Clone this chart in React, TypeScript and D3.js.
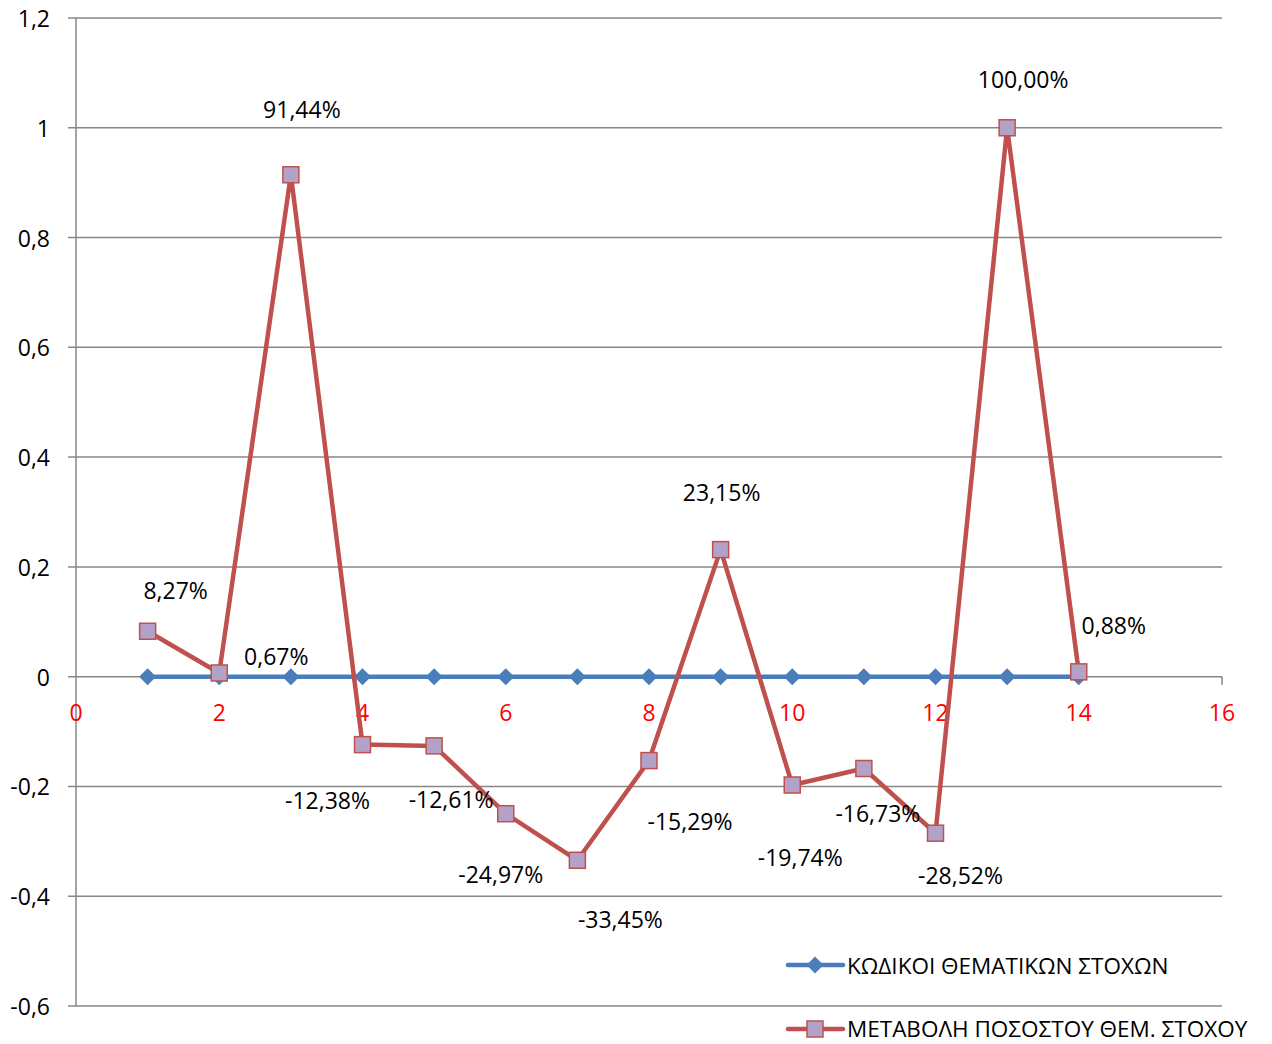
import React from "react";
import * as d3 from "d3";

const xValues = [1, 2, 3, 4, 5, 6, 7, 8, 9, 10, 11, 12, 13, 14];
const codesSeries = [0, 0, 0, 0, 0, 0, 0, 0, 0, 0, 0, 0, 0, 0];
const changeSeries = [0.0827, 0.0067, 0.9144, -0.1238, -0.1261, -0.2497, -0.3345, -0.1529, 0.2315, -0.1974, -0.1673, -0.2852, 1.0, 0.0088];
const changeLabels = ["8,27%", "0,67%", "91,44%", "-12,38%", "-12,61%", "-24,97%", "-33,45%", "-15,29%", "23,15%", "-19,74%", "-16,73%", "-28,52%", "100,00%", "0,88%"];
const labelOffsets: [number, number][] = [
  [28, -41], [57, -17], [11, -66], [-35, 55], [17, 53], [-5, 60], [43, 59],
  [41, 60], [1, -58], [8, 72], [14, 45], [25, 42], [16, -49], [35, -47],
];
const yTicks = [-0.6, -0.4, -0.2, 0, 0.2, 0.4, 0.6, 0.8, 1, 1.2];
const xTicks = [0, 2, 4, 6, 8, 10, 12, 14, 16];
const seriesNames = ["ΚΩΔΙΚΟΙ ΘΕΜΑΤΙΚΩΝ ΣΤΟΧΩΝ", "ΜΕΤΑΒΟΛΗ ΠΟΣΟΣΤΟΥ ΘΕΜ. ΣΤΟΧΟΥ"];

const FONT = "'Open Sans', 'Noto Sans', sans-serif";
const FS = 23;
const BLUE = "#4a7ebb";
const RED = "#c0504d";
const MARK = "#b3a2c7";
const GRID = "#878787";

const fmt = (v: number) => {
  const s = d3.format("~g")(Math.round(v * 10) / 10);
  return s.replace(".", ",").replace("−", "-");
};

export default function App() {
  const W = 1272, H = 1044;
  const x = d3.scaleLinear().domain([0, 16]).range([76, 1222]);
  const y = d3.scaleLinear().domain([-0.6, 1.2]).range([1006, 18]);
  const line = d3.line<number>().x((_, i) => x(xValues[i])).y((d) => y(d));
  const ms = 16;
  const diamond = (cx: number, cy: number, r: number) =>
    `M${cx},${cy - r}L${cx + r},${cy}L${cx},${cy + r}L${cx - r},${cy}Z`;

  return (
    <svg width={W} height={H} style={{ position: "absolute", left: 0, top: 0, background: "#fff" }} fontFamily={FONT}>
      {yTicks.map((t) => (
        <g key={t}>
          <line x1={68} x2={1222} y1={y(t)} y2={y(t)} stroke={GRID} strokeWidth={1.5} />
          <text x={50} y={y(t)} textAnchor="end" dominantBaseline="central" fontSize={FS} fill="#000">
            {fmt(t)}
          </text>
        </g>
      ))}
      <line x1={x(0)} x2={x(0)} y1={y(1.2)} y2={y(-0.6)} stroke={GRID} strokeWidth={1.5} />
      <line x1={x(16)} x2={x(16)} y1={y(0)} y2={y(0) + 8} stroke={GRID} strokeWidth={1.5} />
      {xTicks.map((t) => (
        <text key={t} x={x(t)} y={y(0) + 35} textAnchor="middle" dominantBaseline="central" fontSize={FS} fill="#ff0000">
          {t}
        </text>
      ))}
      <path d={line(codesSeries) || ""} fill="none" stroke={BLUE} strokeWidth={4.5} strokeLinejoin="round" />
      {codesSeries.map((v, i) => (
        <path key={i} d={diamond(x(xValues[i]), y(v), 8.5)} fill={BLUE} />
      ))}
      <path d={line(changeSeries) || ""} fill="none" stroke={RED} strokeWidth={4.5} strokeLinejoin="round" />
      {changeSeries.map((v, i) => (
        <rect key={i} x={x(xValues[i]) - ms / 2} y={y(v) - ms / 2} width={ms} height={ms} fill={MARK} stroke={RED} strokeWidth={1.5} />
      ))}
      {changeSeries.map((v, i) => (
        <text key={i} x={x(xValues[i]) + labelOffsets[i][0]} y={y(v) + labelOffsets[i][1]} textAnchor="middle" dominantBaseline="central" fontSize={FS} fill="#000">
          {changeLabels[i]}
        </text>
      ))}
      <g>
        <line x1={788} x2={843} y1={965} y2={965} stroke={BLUE} strokeWidth={4.5} strokeLinecap="round" />
        <path d={diamond(815, 965, 8.5)} fill={BLUE} />
        <text x={847} y={965} dominantBaseline="central" fontSize={22.5} fill="#000">{seriesNames[0]}</text>
        <line x1={788} x2={843} y1={1029} y2={1029} stroke={RED} strokeWidth={4.5} strokeLinecap="round" />
        <rect x={815 - ms / 2} y={1029 - ms / 2} width={ms} height={ms} fill={MARK} stroke={RED} strokeWidth={1.5} />
        <text x={847} y={1028} dominantBaseline="central" fontSize={22.5} fill="#000">{seriesNames[1]}</text>
      </g>
    </svg>
  );
}
